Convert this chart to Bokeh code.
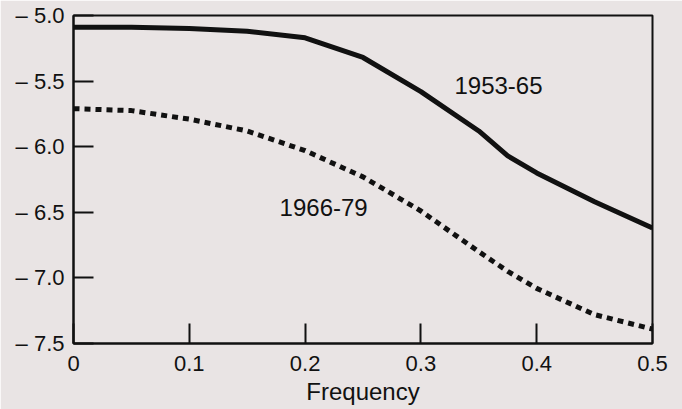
from bokeh.plotting import figure
from bokeh.models import Range1d, FixedTicker
from bokeh.core.properties import value
from bokeh.embed import file_html
from bokeh.resources import INLINE

freq = [0.0, 0.05, 0.1, 0.15, 0.2, 0.25, 0.3, 0.35, 0.375, 0.4, 0.45, 0.5]
p1953_65 = [-5.09, -5.09, -5.10, -5.12, -5.17, -5.32, -5.58, -5.88, -6.07, -6.20, -6.42, -6.62]
p1966_79 = [-5.71, -5.725, -5.79, -5.88, -6.03, -6.23, -6.49, -6.80, -6.95, -7.08, -7.28, -7.39]

x_ticks = [0.0, 0.1, 0.2, 0.3, 0.4, 0.5]
x_labels = ["0", "0.1", "0.2", "0.3", "0.4", "0.5"]
y_ticks = [-5.0, -5.5, -6.0, -6.5, -7.0, -7.5]
y_labels = ["\u2013 5.0", "\u2013 5.5", "\u2013 6.0", "\u2013 6.5", "\u2013 7.0", "\u2013 7.5"]

series_names = ["1953-65", "1966-79"]
x_title = "Frequency"

BG = "#e9e4e4"
FONT = "Liberation Sans"

p = figure(width=682, height=409, output_backend="svg", toolbar_location=None,
           x_range=Range1d(0, 0.5), y_range=Range1d(-7.5, -5.0),
           min_border_left=73, min_border_right=30, min_border_top=15, min_border_bottom=66)
p.background_fill_color = BG
p.border_fill_color = BG
p.outline_line_color = "#111111"
p.outline_line_width = 2
p.grid.visible = False

p.line(freq, p1953_65, line_color="#111111", line_width=5)
p.line(freq, p1966_79, line_color="#111111", line_width=5, line_dash="6 5", line_cap="butt")

p.text(x=[0.367], y=[-5.535], text=[series_names[0]], text_font=value(FONT), text_font_size="24px",
       text_align="center", text_baseline="middle", text_color="#111111")
p.text(x=[0.216], y=[-6.463], text=[series_names[1]], text_font=value(FONT), text_font_size="24px",
       text_align="center", text_baseline="middle", text_color="#111111")

xa = p.xaxis[0]
xa.ticker = FixedTicker(ticks=x_ticks)
xa.major_label_overrides = {t: l for t, l in zip(x_ticks, x_labels)}
xa.axis_label = x_title
ya = p.yaxis[0]
ya.ticker = FixedTicker(ticks=y_ticks)
ya.major_label_overrides = {t: l for t, l in zip(y_ticks, y_labels)}

for ax in (xa, ya):
    ax.axis_line_color = "#111111"
    ax.axis_line_width = 2
    ax.major_tick_in = 20
    ax.major_tick_out = 0
    ax.major_tick_line_color = "#111111"
    ax.major_tick_line_width = 2
    ax.minor_tick_line_color = None
    ax.major_label_text_font = FONT
    ax.major_label_text_font_size = "22px"
    ax.major_label_text_color = "#111111"
    ax.axis_label_text_font = FONT
    ax.axis_label_text_font_size = "24px"
    ax.axis_label_text_font_style = "normal"
    ax.axis_label_text_color = "#111111"
ya.major_label_standoff = 9
xa.major_label_standoff = 12
xa.axis_label_standoff = 4

open("out.html", "w").write(file_html(p, INLINE))
